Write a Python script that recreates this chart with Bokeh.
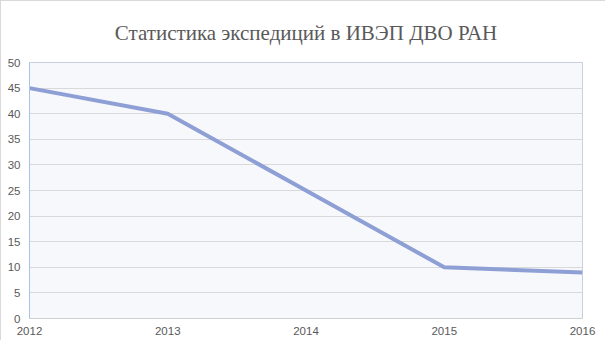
from bokeh.plotting import figure
from bokeh.models import Range1d, FixedTicker
from bokeh.embed import file_html
from bokeh.resources import INLINE

years = [2012, 2013, 2014, 2015, 2016]
expeditions = [45, 40, 25, 10, 9]
y_ticks = [0, 5, 10, 15, 20, 25, 30, 35, 40, 45, 50]
title_text = "Статистика экспедиций в ИВЭП ДВО РАН"

p = figure(width=605, height=340, output_backend="svg", toolbar_location=None,
           x_range=Range1d(2012, 2016), y_range=Range1d(0, 50),
           min_border_left=28, min_border_right=24, min_border_top=61, min_border_bottom=23,
           title=title_text)

p.line(years, expeditions, line_color="#8e9fd6", line_width=4)

p.background_fill_color = "#f7f8fc"
p.border_fill_color = "white"
p.outline_line_color = "#c8cfe0"
p.styles = {"border-top": "1px solid #d9d9d9", "border-left": "1px solid #d9d9d9",
            "box-sizing": "border-box"}

p.title.align = "center"
p.title.text_font = "Liberation Serif"
p.title.text_font_size = "21px"
p.title.text_font_style = "normal"
p.title.text_color = "#595959"
p.title.offset = 0
p.title.standoff = 35

p.xaxis.ticker = FixedTicker(ticks=years)
p.yaxis.ticker = FixedTicker(ticks=y_ticks)
for ax in (p.xaxis, p.yaxis):
    ax.major_tick_line_color = None
    ax.minor_tick_line_color = None
    ax.major_label_text_font = "Liberation Sans"
    ax.major_label_text_font_size = "11.5px"
    ax.major_label_text_color = "#595959"
p.xaxis.axis_line_color = "#d0d0d0"
p.yaxis.axis_line_color = "#a8c2f0"
p.xaxis.major_label_standoff = 2
p.yaxis.major_label_standoff = 3

p.xgrid.grid_line_color = None
p.ygrid.grid_line_color = "#d9d9d9"

open("out.html", "w").write(file_html(p, INLINE))
